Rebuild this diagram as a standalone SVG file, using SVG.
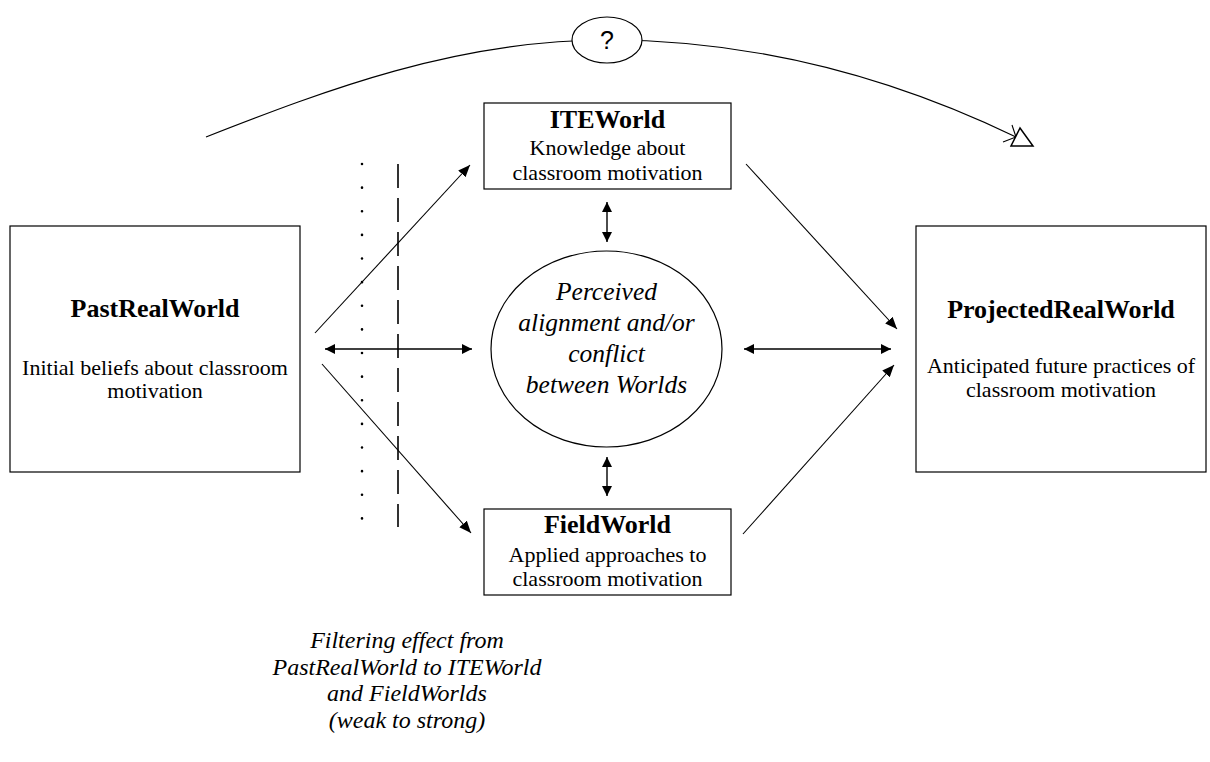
<svg xmlns="http://www.w3.org/2000/svg" width="1210" height="762" viewBox="0 0 1210 762">
<style>
.box{fill:#fff;stroke:#000;stroke-width:1.2}
.t{font-family:"Liberation Serif","Times New Roman",serif;fill:#000;text-anchor:middle}
.title{font-size:26px;font-weight:bold}
.body{font-size:22px}
.it{font-size:25.5px;font-style:italic}
.it2{font-size:24px;font-style:italic}
.q{font-family:"Liberation Sans",Arial,sans-serif;font-size:25px;text-anchor:middle;fill:#000}
.ln{stroke:#000;stroke-width:1.1;fill:none}
.dbl{stroke:#000;stroke-width:1.4;fill:none}
</style>
<defs>
<marker id="ah" viewBox="0 0 12 10" refX="12" refY="5" markerWidth="12" markerHeight="10" markerUnits="userSpaceOnUse" orient="auto-start-reverse">
<path d="M0,0 L12,5 L0,10 z" fill="#000"/>
</marker>
<marker id="ahs" viewBox="0 0 10 10" refX="10" refY="5" markerWidth="10" markerHeight="10" markerUnits="userSpaceOnUse" orient="auto-start-reverse">
<path d="M0,0 L10,5 L0,10 z" fill="#000"/>
</marker>
</defs>
<rect width="1210" height="762" fill="#fff"/>
<g id="connectors">
<path class="ln" d="M206,137 C326,90 457,40 607,40 C757,40 896,79 1016,137"/>
<path class="ln" d="M1003,142 L1016,137 L1012,125"/>
<polygon points="1020,128 1011,146 1033,146" fill="#fff" stroke="#000" stroke-width="1.5"/>
<line class="ln" x1="315" y1="333" x2="470" y2="165" marker-end="url(#ah)"/>
<line class="ln" x1="322" y1="364" x2="471" y2="533" marker-end="url(#ah)"/>
<line class="ln" x1="746" y1="164" x2="897" y2="329" marker-end="url(#ah)"/>
<line class="ln" x1="743" y1="534" x2="894" y2="365" marker-end="url(#ah)"/>
<line class="dbl" x1="325" y1="349" x2="472" y2="349" marker-start="url(#ahs)" marker-end="url(#ahs)"/>
<line class="dbl" x1="744" y1="349" x2="891" y2="349" marker-start="url(#ahs)" marker-end="url(#ahs)"/>
<line class="dbl" x1="607" y1="202" x2="607" y2="242" marker-start="url(#ahs)" marker-end="url(#ahs)"/>
<line class="dbl" x1="607" y1="457" x2="607" y2="496" marker-start="url(#ahs)" marker-end="url(#ahs)"/>
</g>
<g id="filters">
<line x1="362" y1="164" x2="362" y2="542" stroke="#000" stroke-width="2.6" stroke-linecap="round" stroke-dasharray="0 23.625"/>
<line x1="398" y1="164" x2="398" y2="527" stroke="#000" stroke-width="1.6" stroke-dasharray="24 10"/>
</g>
<g id="question">
<ellipse cx="607" cy="40" rx="35" ry="23" class="box"/>
<text class="q" x="607" y="49">?</text>
</g>
<g id="pastRealWorld">
<rect class="box" x="10" y="226" width="290" height="246"/>
<text class="t title" x="155" y="317">PastRealWorld</text>
<text class="t body" x="155" y="375">Initial beliefs about classroom</text>
<text class="t body" x="155" y="398">motivation</text>
</g>
<g id="iteWorld">
<rect class="box" x="484" y="103" width="247" height="86"/>
<text class="t title" x="607.5" y="128">ITEWorld</text>
<text class="t body" x="607.5" y="155">Knowledge about</text>
<text class="t body" x="607.5" y="180">classroom motivation</text>
</g>
<g id="fieldWorld">
<rect class="box" x="484" y="509" width="247" height="86"/>
<text class="t title" x="607.5" y="533">FieldWorld</text>
<text class="t body" x="607.5" y="562">Applied approaches to</text>
<text class="t body" x="607.5" y="586">classroom motivation</text>
</g>
<g id="perceived">
<ellipse class="box" cx="606.5" cy="349" rx="115.5" ry="98"/>
<text class="t it" x="606.5" y="300">Perceived</text>
<text class="t it" x="606.5" y="331">alignment and/or</text>
<text class="t it" x="606.5" y="362">conflict</text>
<text class="t it" x="606.5" y="393">between Worlds</text>
</g>
<g id="projectedRealWorld">
<rect class="box" x="916" y="226" width="290" height="246"/>
<text class="t title" x="1061" y="318">ProjectedRealWorld</text>
<text class="t body" x="1061" y="373">Anticipated future practices of</text>
<text class="t body" x="1061" y="397">classroom motivation</text>
</g>
<g id="filterLabel">
<text class="t it2" x="407" y="648">Filtering effect from</text>
<text class="t it2" x="407" y="674.5">PastRealWorld to ITEWorld</text>
<text class="t it2" x="407" y="701">and FieldWorlds</text>
<text class="t it2" x="407" y="727.5">(weak to strong)</text>
</g>
</svg>
